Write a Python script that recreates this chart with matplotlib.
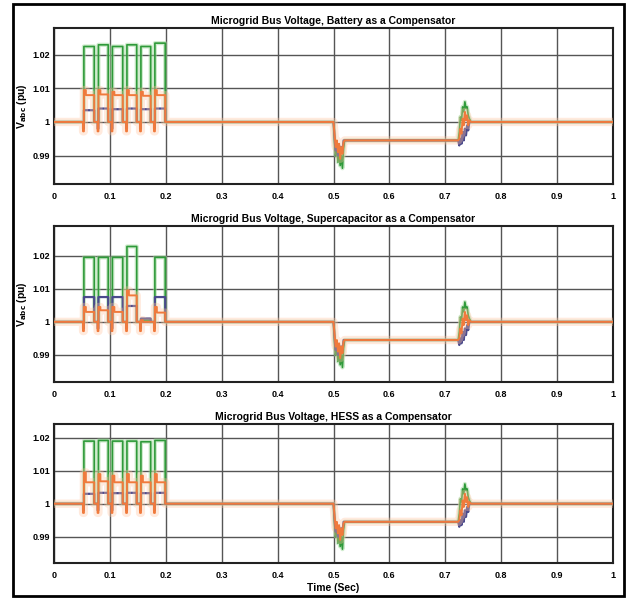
import numpy as np
import matplotlib
matplotlib.use("Agg")
import matplotlib.pyplot as plt
from matplotlib.patches import Rectangle

plt.rcParams['font.family'] = ['Liberation Sans Narrow', 'Liberation Sans', 'DejaVu Sans']
plt.rcParams['font.weight'] = 'bold'

# panel titles
titles = ["Microgrid Bus Voltage, Battery as a Compensator",
          "Microgrid Bus Voltage, Supercapacitor as a Compensator",
          "Microgrid Bus Voltage, HESS as a Compensator"]

# load pulses (start / end, seconds)
pulse_on = [0.052, 0.078, 0.103, 0.129, 0.154, 0.179]
pulse_off = [0.072, 0.097, 0.123, 0.148, 0.173, 0.199]

# per-pulse levels: battery
bat_green = [1.0225, 1.023, 1.0225, 1.023, 1.0225, 1.0235]
bat_orange_pk = [1.0095, 1.0095, 1.009, 1.0095, 1.009, 1.0095]
bat_orange = [1.008, 1.0082, 1.008, 1.008, 1.0078, 1.008]
bat_blue = [1.0035, 1.004, 1.0038, 1.004, 1.0038, 1.004]

# supercapacitor (5th pulse barely compensated)
sc_green = [1.0195, 1.0195, 1.0195, 1.0228, 1.0005, 1.0195]
sc_orange_pk = [1.0045, 1.0045, 1.0045, 1.0095, 1.0005, 1.0045]
sc_orange = [1.003, 1.0035, 1.003, 1.008, 1.0, 1.0028]
sc_blue = [1.0075, 1.0075, 1.0075, 1.0048, 1.001, 1.0075]

# HESS
hess_green = [1.019, 1.0192, 1.019, 1.019, 1.0188, 1.0192]
hess_orange_pk = [1.0095, 1.009, 1.0085, 1.009, 1.0085, 1.009]
hess_orange = [1.0065, 1.0068, 1.0065, 1.0065, 1.0065, 1.0065]
hess_blue = [1.003, 1.0033, 1.0032, 1.0033, 1.0032, 1.0033]

# edge dip at pulse start
dip_green = 1.0
dip_orange = 0.9972
dip_blue = 0.998

# voltage sag at 0.5 s
sag_t = [0.500, 0.502, 0.504, 0.506, 0.508, 0.510, 0.512, 0.514, 0.516, 0.518, 0.520, 0.522]
sag_green = [1.000, 0.9935, 0.990, 0.9925, 0.988, 0.9905, 0.9870, 0.990, 0.9862, 0.992, 0.9945, 0.9945]
sag_blue = [1.000, 0.995, 0.9915, 0.9935, 0.990, 0.993, 0.9905, 0.9925, 0.9915, 0.9945, 0.9945, 0.9945]
sag_orange = [1.000, 0.996, 0.9925, 0.9945, 0.991, 0.9935, 0.989, 0.9925, 0.9905, 0.994, 0.9945, 0.9945]

# recovery around 0.72 s
rec_t = [0.723, 0.725, 0.727, 0.729, 0.731, 0.733, 0.735, 0.737, 0.739, 0.741, 0.743, 0.746]
rec_green = [0.9945, 0.997, 1.0015, 1.0005, 1.0045, 1.003, 1.006, 1.004, 1.0045, 1.002, 1.001, 1.000]
rec_blue = [0.9945, 0.993, 0.995, 0.9935, 0.997, 0.9945, 0.998, 0.996, 0.999, 0.9975, 1.000, 1.000]
rec_orange = [0.9945, 0.995, 0.998, 0.9965, 1.001, 0.999, 1.003, 1.0005, 1.002, 0.999, 1.0005, 1.000]

ylims = [(0.9815, 1.028), (0.9818, 1.029), (0.982, 1.0242)]
yticks = [0.99, 1.0, 1.01, 1.02]
ytick_labels = ['0.99', '1', '1.01', '1.02']
xticks = [0, 0.1, 0.2, 0.3, 0.4, 0.5, 0.6, 0.7, 0.8, 0.9, 1.0]
xtick_labels = ['0', '0.1', '0.2', '0.3', '0.4', '0.5', '0.6', '0.7', '0.8', '0.9', '1']


def trace(levels, peaks, dip, sag, rec):
    t = [0.0]
    v = [1.0]
    for i in range(len(pulse_on)):
        a = pulse_on[i]
        b = pulse_off[i]
        t += [a, a, a + 0.0015, a + 0.0015, a + 0.005, a + 0.005, b, b]
        v += [1.0, dip, dip, peaks[i], peaks[i], levels[i], levels[i], 1.0]
    t += list(sag_t)
    v += list(sag)
    t += list(rec_t)
    v += list(rec)
    t += [1.0]
    v += [1.0]
    return t, v


panels = [
    (bat_green, bat_orange, bat_orange_pk, bat_blue),
    (sc_green, sc_orange, sc_orange_pk, sc_blue),
    (hess_green, hess_orange, hess_orange_pk, hess_blue),
]

fig = plt.figure(figsize=(6.27, 5.99), dpi=100)
fig.patches.append(Rectangle((13 / 627, 3 / 599), 611 / 627, 592 / 599,
                             transform=fig.transFigure, fill=False,
                             edgecolor='black', linewidth=2))

rects = [[0.0861, 0.6928, 0.8916, 0.2604],
         [0.0861, 0.3623, 0.8916, 0.2604],
         [0.0861, 0.0601, 0.8916, 0.2321]]

for k in range(3):
    ax = fig.add_axes(rects[k])
    g, o, opk, b = panels[k]
    gt, gv = trace(g, g, dip_green, sag_green, rec_green)
    bt, bv = trace(b, b, dip_blue, sag_blue, rec_blue)
    ot, ov = trace(o, opk, dip_orange, sag_orange, rec_orange)

    ax.plot(gt, gv, color='#9fd89a', lw=3.0, alpha=0.5, zorder=3)
    ax.plot(gt, gv, color='#2f9a3a', lw=1.2, zorder=4)
    ax.plot(bt, bv, color='#4a4a8c', lw=1.6, zorder=5)
    ax.plot(ot, ov, color='#ffc3a0', lw=6.0, alpha=0.35, zorder=6)
    ax.plot(ot, ov, color='#f07a3c', lw=1.4, zorder=7)

    ax.set_xlim(0, 1)
    ax.set_ylim(*ylims[k])
    ax.set_xticks(xticks)
    ax.set_xticklabels(xtick_labels)
    ax.set_yticks(yticks)
    ax.set_yticklabels(ytick_labels)
    ax.tick_params(labelsize=6.5, length=0)
    ax.tick_params(axis='x', pad=6)
    ax.tick_params(axis='y', pad=3)
    ax.grid(True, color='#555555', lw=1.0)
    ax.set_axisbelow(True)
    for s in ax.spines.values():
        s.set_linewidth(1.5)
        s.set_color('#222222')
    ax.set_title(titles[k], fontsize=7.5, fontweight='bold', pad=3)
    if k < 2:
        ax.set_ylabel(r'V$_{\mathbf{abc}}$ (pu)', fontsize=7.5, fontweight='bold')
        ax.yaxis.set_label_coords(-0.045, 0.5)
    else:
        ax.set_xlabel('Time (Sec)', fontsize=7.5, fontweight='bold', labelpad=2)

fig.savefig('out.png', dpi=100)
